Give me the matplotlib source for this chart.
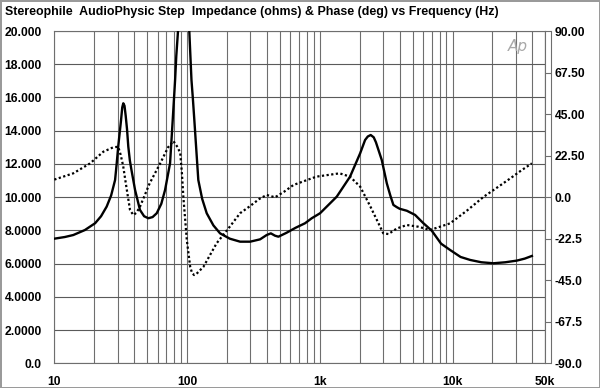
import matplotlib
matplotlib.use("Agg")
import matplotlib.pyplot as plt
from matplotlib.ticker import FixedLocator, NullLocator

plt.rcParams['font.family'] = ['Liberation Sans', 'DejaVu Sans']

# impedance (ohms)
imp_freq = [10, 12, 13.9, 17, 20.3, 22.5, 24.8, 26.8, 28.7, 29.5, 30.3, 31.8, 32.5, 33.1,
            33.8, 34.5, 35.3, 36.1, 37.1, 38.2, 40.6, 44.2, 47.5, 51.1, 55, 59.1, 64,
            68.3, 74.5, 78, 81.3, 83, 85.5, 87.5, 90, 95, 100, 102, 104, 106, 108,
            110.5, 113.5, 121.6, 130, 140.7, 158, 177.4, 210, 251, 299, 355, 398, 428,
            460, 488, 560, 659, 775, 870, 1005, 1343, 1690, 2015, 2195, 2300, 2420,
            2550, 2650, 2930, 3200, 3400, 3587, 3800, 4000, 4530, 5225, 6000, 6980,
            8200, 9590, 11500, 13580, 16500, 20330, 25000, 30520, 35000, 39630]
imp_ohms = [7.50, 7.60, 7.72, 8.02, 8.43, 8.85, 9.43, 10.1, 11.03, 12.0, 13.04, 14.6, 15.4,
            15.65, 15.5, 14.9, 14.1, 13.04, 12.2, 11.6, 10.43, 9.23, 8.85, 8.73, 8.8, 9.03,
            9.6, 10.43, 12.04, 14.64, 17.05, 18.5, 20.0, 21.5, 24, 26, 24, 22, 20.0, 18.5,
            17.05, 16.0, 14.64, 11.03, 9.9, 9.03, 8.3, 7.82, 7.5, 7.32, 7.32, 7.46, 7.72,
            7.82, 7.68, 7.62, 7.85, 8.16, 8.43, 8.73, 9.03, 10.03, 11.23, 12.64, 13.44,
            13.65, 13.74, 13.6, 13.3, 12.24, 10.83, 10.1, 9.53, 9.4, 9.3, 9.18, 8.93,
            8.45, 7.98, 7.2, 6.82, 6.4, 6.22, 6.08, 6.02, 6.08, 6.18, 6.3, 6.46]

# phase (deg)
ph_freq = [10, 13.9, 18.6, 23.4, 27.8, 30.3, 31.6, 33, 35, 37.2, 39.4, 41.5, 44.2, 52.3,
           62.8, 72, 78.9, 85, 88.9, 91.5, 93.8, 99.6, 105.6, 109, 113, 118, 133, 167,
           210, 251, 299, 350, 398, 460, 540, 634, 942, 1410, 1690, 2015, 2410, 3010,
           3290, 3800, 4530, 5500, 6780, 9590, 13000, 17170, 22000, 27300, 33000, 39630]
ph_deg = [9.5, 12.9, 18.3, 24.6, 27.0, 27.3, 23, 17, 5, -7, -9.7, -8.5, -5.2, 7.5,
          18.3, 27, 30.4, 27, 23.8, 13, 0.2, -23.2, -37.7, -41, -42.2, -41.5, -37.7, -25,
          -16, -8.7, -4.8, -1, 1.2, -0.1, 3, 6.6, 11.1, 12.9, 11.1, 5.7, -5.2, -19.6,
          -20, -17, -15.1, -16, -17.8, -14.2, -7, 0.2, 5.5, 10.2, 14.5, 18.3]

left_ticks = [0, 2, 4, 6, 8, 10, 12, 14, 16, 18, 20]
left_labels = ["0.0", "2.0000", "4.0000", "6.0000", "8.0000", "10.000", "12.000",
               "14.000", "16.000", "18.000", "20.000"]
right_ticks = [-90, -67.5, -45, -22.5, 0, 22.5, 45, 67.5, 90]
right_labels = ["-90.0", "-67.5", "-45.0", "-22.5", "0.0", "22.50", "45.00", "67.50", "90.00"]
x_ticks = [10, 100, 1000, 10000, 50000]
x_labels = ["10", "100", "1k", "10k", "50k"]

fig = plt.figure(figsize=(6, 3.88), dpi=100)
fig.patch.set_edgecolor('#9a9a9a')
fig.patch.set_linewidth(2)
ax = fig.add_axes([0.0905, 0.0637, 0.9088 - 0.0905, 0.9201 - 0.0637])

ax.set_xscale('log')
ax.set_xlim(10, 50000)
ax.set_ylim(0, 20)

# grid
grid_x = [m * 10 ** d for d in range(1, 5) for m in range(1, 10)] + [50000]
for gx in grid_x:
    ax.axvline(gx, color='#6e6e6e', lw=0.8, zorder=1)
for gy in left_ticks:
    ax.axhline(gy, color='#5a5a5a', lw=0.8, zorder=1)

ax.plot(imp_freq, imp_ohms, color='black', lw=1.7, zorder=3, solid_joinstyle='round')

ax.xaxis.set_major_locator(FixedLocator(x_ticks))
ax.xaxis.set_minor_locator(NullLocator())
ax.set_xticklabels(x_labels)
ax.set_yticks(left_ticks)
ax.set_yticklabels(left_labels)
ax.tick_params(axis='both', length=0, labelsize=8.7)
ax.tick_params(axis='y', pad=9)
ax.tick_params(axis='x', pad=9)
for t in ax.get_xticklabels() + ax.get_yticklabels():
    t.set_fontweight('bold')
for s in ax.spines.values():
    s.set_color('#6e6e6e')
    s.set_linewidth(0.8)

ax2 = ax.twinx()
ax2.set_ylim(-90, 90)
ax2.plot(ph_freq, ph_deg, color='black', lw=1.6, linestyle=(0, (1, 1.1)), zorder=3)
ax2.set_yticks(right_ticks)
ax2.set_yticklabels(right_labels)
ax2.spines['right'].set_position(('outward', 4.3))
ax2.spines['right'].set_color('#6e6e6e')
ax2.spines['right'].set_linewidth(0.8)
for k in ['left', 'top', 'bottom']:
    ax2.spines[k].set_visible(False)
ax2.tick_params(axis='y', direction='in', length=4.3, width=0.8, color='#6e6e6e',
                labelsize=8.7, pad=2.5)
for t in ax2.get_yticklabels():
    t.set_fontweight('bold')

ax.text(0.965, 0.975, "Ap", transform=ax.transAxes, ha='right', va='top',
        fontsize=11, fontstyle='italic', color='#a8a8a8', family='DejaVu Sans',
        fontweight='light', zorder=4)

fig.text(0.009, 0.968, "Stereophile  AudioPhysic Step  Impedance (ohms) & Phase (deg) vs Frequency (Hz)",
         ha='left', va='center', fontsize=8.9, fontweight='bold')

fig.savefig("out.png", dpi=100)
